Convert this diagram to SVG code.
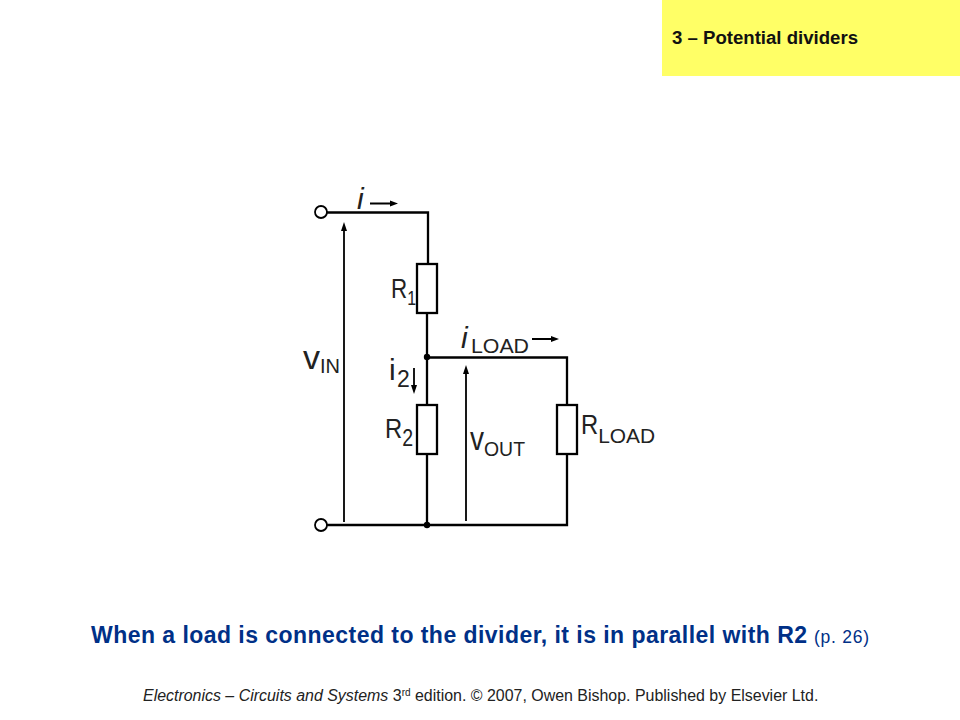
<svg xmlns="http://www.w3.org/2000/svg" width="960" height="720" viewBox="0 0 960 720">
<style>
.w{fill:none;stroke:#000;stroke-width:2.300}
.a{fill:none;stroke:#000;stroke-width:1.800}
.h{fill:#000}
.r{fill:#fff;stroke:#000;stroke-width:2.300}
.c{fill:#fff;stroke:#000;stroke-width:1.800}
text{font-family:"Liberation Sans",Arial,sans-serif}
.l{font-size:28px;fill:#222}
.v{font-size:33px;fill:#222}
.s{font-size:21px;fill:#222}
.f{font-size:15.950px;fill:#222}
</style>
<rect width="960" height="720" fill="#fff"/>
<rect id="banner" x="662" y="0" width="298" height="76" fill="#ffff66"/>
<text x="672" y="44" font-size="18" font-weight="bold" fill="#111" textLength="186" lengthAdjust="spacingAndGlyphs">3 – Potential dividers</text>
<g id="connectors">
<path class="w" d="M327 212.500H428V264M427 313V405M427 454V525M327 525H567V454M567 405V357.500H427"/>
<path class="a" d="M344 522V228M466 521V372M370 203.500H392M532 339H554M414 368V388"/>
<path class="h" d="M344 222l-3 9h6zM466 365l-3 9h6zM398 203.500l-8-3v6zM559 339l-8-3v6zM414 394l-3-9h6z"/>
</g>
<g id="t1"><circle class="c" cx="321" cy="212" r="6"/></g>
<g id="t2"><circle class="c" cx="321" cy="525" r="6"/></g>
<g id="j1"><circle class="h" cx="427" cy="357" r="3.200"/></g>
<g id="j2"><circle class="h" cx="427" cy="525" r="3.200"/></g>
<g id="R1"><rect class="r" x="417" y="264" width="20" height="49"/><text class="l" transform="translate(391 298) scale(.8 1)">R<tspan font-size="20" dy="7">1</tspan></text></g>
<g id="R2"><rect class="r" x="417" y="405" width="20" height="49"/><text class="l" transform="translate(385 438) scale(.85 1)">R<tspan font-size="23" dy="8">2</tspan></text></g>
<g id="RLOAD"><rect class="r" x="557" y="405" width="20" height="49"/><text class="l" transform="translate(581 434) scale(.85 1)">R<tspan font-size="21" dy="9" textLength="67" lengthAdjust="spacingAndGlyphs">LOAD</tspan></text></g>
<g id="labels">
<text class="l" x="357" y="209" font-style="italic" style="font-size:30px">i</text>
<text class="l" x="461" y="348" font-style="italic" style="font-size:30px">i</text>
<text class="s" x="471" y="353" textLength="58" lengthAdjust="spacingAndGlyphs">LOAD</text>
<text class="l" x="389" y="380" style="font-size:30px">i</text>
<text class="s" x="397" y="387" style="font-size:23px">2</text>
<text class="v" x="303" y="369" textLength="17" lengthAdjust="spacingAndGlyphs">v</text>
<text class="s" x="320" y="373" textLength="20" lengthAdjust="spacingAndGlyphs">IN</text>
<text class="v" x="470" y="450" textLength="14" lengthAdjust="spacingAndGlyphs">v</text>
<text class="s" x="484" y="456" textLength="41" lengthAdjust="spacingAndGlyphs">OUT</text>
</g>
<text x="91" y="643" font-size="23" font-weight="bold" fill="#003087" textLength="716">When a load is connected to the divider, it is in parallel with R2</text>
<text x="814" y="643" font-size="17.500" fill="#003087" textLength="55">(p. 26)</text>
<text class="f" x="143" y="701"><tspan font-style="italic">Electronics – Circuits and Systems </tspan>3<tspan font-size="10" dy="-5">rd</tspan><tspan dy="5"> edition. © 2007, Owen Bishop. Published by Elsevier Ltd.</tspan></text>
</svg>
